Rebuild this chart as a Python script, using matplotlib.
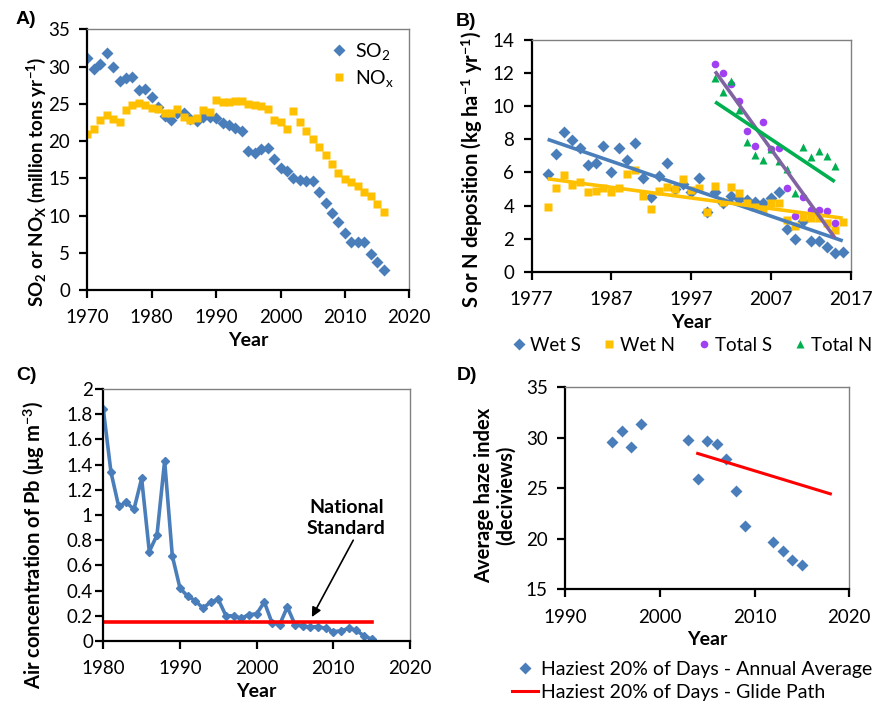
import numpy as np
import matplotlib
matplotlib.use("Agg")
import matplotlib.pyplot as plt

plt.rcParams['font.family'] = ['Lato', 'DejaVu Sans']
plt.rcParams['mathtext.fontset'] = 'custom'
plt.rcParams['mathtext.rm'] = 'Lato'
plt.rcParams['mathtext.it'] = 'Lato:italic'
plt.rcParams['mathtext.bf'] = 'Lato:bold'

# ---------------- Panel A data ----------------
years_a = list(range(1970, 2017))
so2 = [31.2, 29.7, 30.4, 31.8, 30.0, 28.0, 28.5, 28.6, 26.9, 27.0,
       25.9, 24.6, 23.3, 22.8, 23.8, 23.7, 22.9, 22.7, 23.2, 23.2,
       23.1, 22.4, 22.1, 21.8, 21.4, 18.6, 18.4, 18.9, 19.0, 17.6,
       16.4, 16.0, 15.0, 14.8, 14.6, 14.6, 13.1, 11.7, 10.3, 9.1,
       7.7, 6.5, 6.5, 6.5, 4.8, 3.8, 2.7]
nox = [20.9, 21.6, 22.8, 23.5, 22.9, 22.6, 24.1, 24.8, 25.1, 24.8,
       24.4, 24.3, 23.8, 23.7, 24.3, 23.2, 22.8, 23.1, 24.2, 23.9,
       25.5, 25.2, 25.3, 25.4, 25.4, 25.0, 24.9, 24.7, 24.3, 22.8,
       22.6, 21.6, 24.0, 22.6, 21.3, 20.3, 19.2, 18.1, 16.9, 15.7,
       14.9, 14.5, 14.0, 13.2, 12.6, 11.6, 10.5]

# ---------------- Panel B data ----------------
years_wet = list(range(1979, 2017))
wet_s = [5.9, 7.1, 8.45, 7.93, 7.5, 6.46, 6.54, 7.58, 6.0, 7.5,
         6.74, 7.77, 5.66, 4.54, 5.77, 6.54, 5.0, 5.3, 4.8, 5.64,
         3.59, 4.8, 4.13, 4.55, 4.37, 4.33, 4.2, 4.13, 4.45, 4.83,
         2.57, 2.0, 3.08, 1.87, 1.87, 1.52, 1.16, 1.19]
wet_n = [3.89, 5.04, 5.87, 5.24, 5.44, 4.81, 4.9, 5.04, 4.81, 5.08,
         5.88, 6.12, 4.57, 3.77, 4.9, 5.1, 4.97, 5.6, 4.93, 5.04,
         3.59, 5.18, 4.23, 5.12, 4.73, 4.17, 3.9, 3.8, 4.17, 4.13,
         3.12, 2.77, 3.3, 3.25, 3.22, 2.95, 2.49, 2.98]
years_tot = list(range(2000, 2016))
tot_s = [12.53, 11.99, 11.32, 10.3, 8.5, 7.6, 9.07, 7.42, 7.49, 5.08,
         3.36, 4.53, 3.73, 3.73, 3.69, 2.92]
tot_n = [11.68, 10.88, 11.52, 9.77, 7.86, 7.05, 6.75, 7.4, 6.7, 6.18,
         4.73, 7.51, 6.91, 7.29, 6.99, 6.41]

# ---------------- Panel C data ----------------
years_pb = list(range(1980, 2016))
pb = [1.84, 1.34, 1.07, 1.10, 1.045, 1.29, 0.71, 0.84, 1.43, 0.675,
      0.42, 0.355, 0.32, 0.26, 0.31, 0.33, 0.20, 0.20, 0.18, 0.21,
      0.215, 0.31, 0.145, 0.13, 0.27, 0.13, 0.12, 0.11, 0.115, 0.10,
      0.075, 0.08, 0.10, 0.085, 0.04, 0.015]
pb_standard = 0.15
pb_std_years = [1980, 2015]

# ---------------- Panel D data ----------------
years_haze = [1995, 1996, 1997, 1998, 2003, 2004, 2005, 2006, 2007, 2008,
              2009, 2012, 2013, 2014, 2015]
haze = [29.6, 30.7, 29.1, 31.4, 29.8, 25.9, 29.7, 29.35, 27.9, 24.7,
        21.25, 19.65, 18.8, 17.9, 17.45]
glide_years = [2004, 2018]
glide_vals = [28.45, 24.45]

BLUE = '#4a7ebb'
YELLOW = '#ffc000'
PURPLE = '#a040f0'
GREEN = '#00b050'
PURPLE_LINE = '#8064a2'
RED = '#ff0000'

W, H = 874, 706
fig = plt.figure(figsize=(W / 100, H / 100), dpi=100)


def add_ax(l, r, t, b):
    return fig.add_axes([l / W, 1 - b / H, (r - l) / W, (b - t) / H])


def fig_xy(x, y):
    return (x / W, 1 - y / H)


TS = 13.5   # tick label size
LS = 14     # axis label size


def style(ax, ypad=7):
    for s in ['top', 'right']:
        ax.spines[s].set_color('#808080')
        ax.spines[s].set_linewidth(1.0)
    for s in ['left', 'bottom']:
        ax.spines[s].set_color('black')
        ax.spines[s].set_linewidth(1.6)
    ax.tick_params(axis='both', labelsize=TS, direction='out', width=1.6)
    ax.tick_params(axis='x', length=6, pad=8)
    ax.tick_params(axis='y', length=5.5, pad=ypad)


panel_font = dict(fontsize=14, fontweight='bold',
                  family=['Liberation Sans', 'DejaVu Sans'], va='center')

# ---------- A ----------
axA = add_ax(87.3, 409.3, 29.3, 290)
style(axA)
axA.plot(years_a, so2, 'D', color=BLUE, ms=6, mec='none', label=r'SO$_\mathrm{2}$')
axA.plot(years_a, nox, 's', color=YELLOW, ms=5.5, mec='none', label=r'NO$_\mathrm{x}$')
axA.set_xlim(1970, 2020)
axA.set_ylim(0, 35)
axA.set_xticks(range(1970, 2021, 10))
axA.set_yticks(range(0, 36, 5))
axA.set_xlabel('Year', fontsize=LS, fontweight='bold', labelpad=4)
axA.set_ylabel(r'SO$_\mathbf{2}$ or NO$_\mathbf{X}$ (million tons yr$^\mathbf{-1}$)',
               fontsize=13.5, fontweight='bold')
axA.yaxis.set_label_coords(-0.122, 0.414)
axA.legend(loc='upper right', bbox_to_anchor=fig_xy(394, 41),
           bbox_transform=fig.transFigure, frameon=False, fontsize=14,
           handletextpad=0.2, handlelength=1.2, borderaxespad=0, borderpad=0,
           labelspacing=0.3)
fig.text(*fig_xy(16, 20), 'A)', **panel_font)

# ---------- B ----------
axB = add_ax(531.7, 850.7, 40, 271.7)
style(axB)
axB.plot(years_wet, wet_s, 'D', color=BLUE, ms=6, mec='none', label='Wet S')
axB.plot(years_wet, wet_n, 's', color=YELLOW, ms=5.5, mec='none', label='Wet N')
axB.plot(years_tot, tot_s, 'o', color=PURPLE, ms=5.5, mec='none', label='Total S')
axB.plot(years_tot, tot_n, '^', color=GREEN, ms=6, mec='none', label='Total N')
for yrs, vals, c in [(years_wet, wet_s, BLUE), (years_wet, wet_n, YELLOW),
                     (years_tot, tot_s, PURPLE_LINE), (years_tot, tot_n, GREEN)]:
    p = np.polyfit(yrs, vals, 1)
    xx = np.array([yrs[0], yrs[-1]])
    axB.plot(xx, np.polyval(p, xx), '-', color=c, lw=2.6, solid_capstyle='butt')
axB.set_xlim(1977, 2017)
axB.set_ylim(0, 14)
axB.set_xticks(range(1977, 2018, 10))
axB.set_yticks(range(0, 15, 2))
axB.set_xlabel('Year', fontsize=LS, fontweight='bold', labelpad=4)
axB.set_ylabel(r'S or N deposition (kg ha$^\mathbf{-1}$ yr$^\mathbf{-1}$)',
               fontsize=14.5, fontweight='bold')
axB.yaxis.set_label_coords(-0.146, 0.443)
axB.legend(loc='upper center', bbox_to_anchor=fig_xy(691, 337),
           bbox_transform=fig.transFigure, ncol=4, frameon=False,
           fontsize=13.5, handletextpad=0.1, handlelength=1.0, columnspacing=1.0,
           borderaxespad=0, borderpad=0)
fig.text(*fig_xy(456, 21), 'B)', **panel_font)

# ---------- C ----------
axC = add_ax(103.3, 410, 389, 641)
style(axC, ypad=2)
axC.plot(years_pb, pb, '-D', color=BLUE, lw=2.6, ms=4.5, mec=BLUE)
axC.plot(pb_std_years, [pb_standard] * 2, '-', color=RED, lw=2.6)
axC.set_xlim(1980, 2020)
axC.set_ylim(0, 2)
axC.set_xticks(range(1980, 2021, 10))
axC.set_yticks(np.round(np.arange(0, 2.01, 0.2), 1))
axC.set_yticklabels(['0', '0.2', '0.4', '0.6', '0.8', '1', '1.2', '1.4', '1.6', '1.8', '2'])
axC.set_xlabel('Year', fontsize=LS, fontweight='bold', labelpad=4)
axC.set_ylabel(r'Air concentration of Pb (μg m$^\mathbf{-3}$)',
               fontsize=14.5, fontweight='bold')
axC.yaxis.set_label_coords(-0.184, 0.381)
axC.text(2011.7, 0.975, 'National\nStandard', fontsize=14, fontweight='bold',
         ha='center', va='center', linespacing=1.25)
axC.annotate('', xy=(2007.2, 0.19), xytext=(2012.6, 0.80),
             arrowprops=dict(arrowstyle='-|>', color='black', lw=1.2,
                             mutation_scale=14, shrinkA=0, shrinkB=0))
fig.text(*fig_xy(16, 376), 'C)', **panel_font)

# ---------- D ----------
axD = add_ax(565, 849.3, 387.3, 589.3)
style(axD)
axD.plot(years_haze, haze, 'D', color=BLUE, ms=6, mec='none',
         label='Haziest 20% of Days - Annual Average')
axD.plot(glide_years, glide_vals, '-', color=RED, lw=2.2,
         label='Haziest 20% of Days - Glide Path')
axD.set_xlim(1990, 2020)
axD.set_ylim(15, 35)
axD.set_xticks(range(1990, 2021, 10))
axD.set_yticks(range(15, 36, 5))
axD.set_xlabel('Year', fontsize=LS, fontweight='bold', labelpad=4)
axD.set_ylabel('Average haze index\n(deciviews)', fontsize=14.5,
               fontweight='bold', linespacing=1.1)
axD.yaxis.set_label_coords(-0.172, 0.467)
axD.legend(loc='upper left', bbox_to_anchor=fig_xy(512, 661),
           bbox_transform=fig.transFigure, ncol=1, frameon=False,
           fontsize=14, handletextpad=0.15, handlelength=1.35, labelspacing=0.3,
           borderaxespad=0, borderpad=0)
fig.text(*fig_xy(457, 376), 'D)', **panel_font)

fig.savefig('out.png', dpi=100)
